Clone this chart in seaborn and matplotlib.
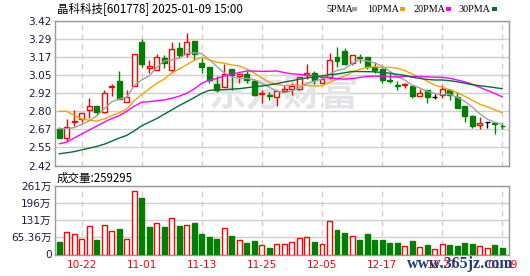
import numpy as np
import pandas as pd
import matplotlib
matplotlib.use("Agg")
import matplotlib.pyplot as plt
import seaborn as sns

# ---------------- data ----------------
dates = ["10-17", "10-18", "10-21", "10-22", "10-23", "10-24", "10-25", "10-28", "10-29", "10-30",
         "10-31", "11-01", "11-04", "11-05", "11-06", "11-07", "11-08", "11-11", "11-12", "11-13",
         "11-14", "11-15", "11-18", "11-19", "11-20", "11-21", "11-22", "11-25", "11-26", "11-27",
         "11-28", "11-29", "12-02", "12-03", "12-04", "12-05", "12-06", "12-09", "12-10", "12-11",
         "12-12", "12-13", "12-16", "12-17", "12-18", "12-19", "12-20", "12-23", "12-24", "12-25",
         "12-26", "12-27", "12-30", "12-31", "01-02", "01-03", "01-06", "01-07", "01-08", "01-09"]

opens = [2.670, 2.612, 2.722, 2.742, 2.804, 2.830, 2.790, 2.965, 3.003, 2.862,
         2.973, 3.272, 3.098, 3.084, 3.163, 3.084, 3.232, 3.189, 3.281, 3.131,
         3.100, 2.987, 2.966, 3.091, 3.040, 3.056, 3.003, 2.915, 2.908, 2.897,
         2.934, 2.950, 2.950, 3.047, 3.061, 2.992, 3.033, 3.172, 3.209, 3.126,
         3.168, 3.168, 3.103, 3.091, 3.015, 2.976, 2.976, 2.969, 2.901, 2.941,
         2.894, 2.906, 2.941, 2.894, 2.830, 2.760, 2.702, 2.721, 2.716, 2.696]
highs = [2.686, 2.742, 2.802, 2.785, 2.890, 2.832, 2.945, 2.983, 3.075, 2.945,
         3.190, 3.293, 3.149, 3.191, 3.184, 3.274, 3.274, 3.334, 3.285, 3.161,
         3.100, 3.038, 3.121, 3.091, 3.056, 3.075, 3.015, 2.941, 2.929, 2.936,
         2.975, 2.990, 3.035, 3.121, 3.073, 3.038, 3.202, 3.237, 3.230, 3.184,
         3.191, 3.168, 3.138, 3.096, 3.057, 3.006, 2.990, 2.976, 2.950, 2.941,
         2.918, 2.980, 2.948, 2.929, 2.830, 2.767, 2.756, 2.723, 2.720, 2.714]
lows = [2.612, 2.589, 2.691, 2.723, 2.749, 2.767, 2.783, 2.899, 2.879, 2.857,
        2.970, 3.103, 3.057, 3.080, 3.096, 3.057, 3.165, 3.168, 3.149, 3.057,
        2.992, 2.929, 2.966, 2.945, 2.990, 2.992, 2.899, 2.853, 2.871, 2.830,
        2.934, 2.906, 2.941, 3.022, 2.987, 2.992, 3.022, 3.103, 3.114, 3.114,
        3.131, 3.087, 3.061, 2.992, 2.992, 2.941, 2.953, 2.890, 2.901, 2.853,
        2.877, 2.890, 2.871, 2.818, 2.720, 2.679, 2.675, 2.679, 2.640, 2.672]
closes = [2.612, 2.686, 2.727, 2.783, 2.834, 2.790, 2.925, 2.970, 2.881, 2.897,
          3.189, 3.124, 3.112, 3.168, 3.126, 3.223, 3.186, 3.272, 3.189, 3.103,
          3.015, 2.945, 3.052, 3.045, 3.056, 3.015, 2.906, 2.920, 2.904, 2.936,
          2.950, 2.970, 3.030, 3.061, 3.010, 3.022, 3.149, 3.145, 3.121, 3.184,
          3.163, 3.103, 3.080, 3.015, 3.008, 2.970, 2.987, 2.899, 2.920, 2.894,
          2.894, 2.948, 2.906, 2.818, 2.760, 2.691, 2.714, 2.721, 2.709, 2.691]
# volume in 万
volumes = [48.5, 85.4, 77.8, 58.7, 107.0, 56.0, 112.0, 89.0, 97.0, 58.7,
           242.0, 217.0, 104.6, 120.0, 104.6, 139.0, 110.0, 112.0, 121.0, 79.0,
           67.6, 58.7, 99.5, 70.0, 55.0, 44.6, 52.0, 35.0, 24.5, 39.5,
           39.5, 47.2, 61.2, 65.0, 48.5, 39.5, 127.5, 93.0, 83.0, 70.0,
           56.0, 79.0, 56.0, 56.0, 44.6, 44.6, 31.9, 52.3, 26.8, 35.7,
           20.4, 39.5, 35.7, 33.2, 43.4, 39.5, 31.9, 24.2, 35.7, 25.9]

# moving-average values before enough in-window history exists
ma5_head = [2.675, 2.675, 2.682, 2.705]
ma10_head = [2.795, 2.795, 2.767, 2.742, 2.733, 2.728, 2.742, 2.765, 2.785]
ma20_head = [2.570, 2.582, 2.610, 2.638, 2.665, 2.693, 2.720, 2.745, 2.765, 2.795,
             2.830, 2.858, 2.862, 2.868, 2.874, 2.885, 2.900, 2.920, 2.950]
ma30_head = [2.501, 2.508, 2.516, 2.528, 2.540, 2.552, 2.567, 2.588, 2.610, 2.628,
             2.660, 2.695, 2.720, 2.745, 2.775, 2.805, 2.835, 2.862, 2.890, 2.920,
             2.940, 2.944, 2.945, 2.948, 2.952, 2.958, 2.965, 2.970, 2.978]

tick_labels = ["10-22", "11-01", "11-13", "11-25", "12-05", "12-17", "12-27", "01-09"]
price_ticks = ["2.42", "2.55", "2.67", "2.80", "2.92", "3.05", "3.17", "3.29", "3.42"]
vol_tick_labels = ["0", "65.36万", "131万", "196万", "261万"]
title_text = "晶科科技[601778] 2025-01-09 15:00"
ma_names = ["5PMA", "10PMA", "20PMA", "30PMA"]
last_volume_text = "成交量:259295"

# ---------------- style ----------------
sns.set_style("white")
plt.rcParams["font.family"] = ["DejaVu Sans", "Noto Sans CJK SC"]
plt.rcParams["axes.unicode_minus"] = False

RED = "#ff0000"
GREEN = "#008000"
MA_COLORS = ["#a0a0a0", "#f5a300", "#ff00ff", "#006f30"]
GRID = "#cfcfcf"
SPINE = "#999999"
TICKC = "#1a1a40"

n = len(closes)
idx = np.arange(n)
o = np.array(opens); h = np.array(highs); l = np.array(lows); c = np.array(closes)
close_s = pd.Series(closes)


def moving_avg(window, head):
    r = close_s.rolling(window).mean().to_numpy()
    r[:window - 1] = head
    return r


mas = [moving_avg(5, ma5_head), moving_avg(10, ma10_head),
       moving_avg(20, ma20_head), moving_avg(30, ma30_head)]

fig = plt.figure(figsize=(5.30, 2.76), dpi=100)
L, W = 55 / 530, 454 / 530
axp = fig.add_axes([L, 1 - 165.5 / 276, W, 144.5 / 276])
axv = fig.add_axes([L, 1 - 254.5 / 276, W, 68.5 / 276])

xmin, xmax = -0.55, 59.9
tick_pos = [dates.index(t) for t in tick_labels]

# ---------------- price panel ----------------
axp.set_xlim(xmin, xmax)
axp.set_ylim(2.42, 3.42)
pt = [2.42 + 0.125 * k for k in range(9)]
axp.set_yticks(pt)
axp.set_yticklabels(price_ticks)
for y in pt:
    axp.axhline(y, color=GRID, lw=1, zorder=0)
for xp in tick_pos:
    axp.axvline(xp, color=GRID, lw=1, ls=(0, (4, 3)), zorder=0)

axp.text(0.505, 0.49, "东方财富", transform=axp.transAxes, ha="center", va="center",
         fontsize=27, fontweight="bold", color="#e4e4e8", zorder=0.5,
         family=["Noto Sans CJK SC"])

bw = 0.66
for i in range(n):
    if c[i] > o[i]:
        col, fc = RED, "white"
    elif c[i] < o[i]:
        col, fc = GREEN, GREEN
    else:
        col, fc = "black", "black"
    axp.vlines(i, l[i], h[i], color=col, lw=1, zorder=2)
    bottom = min(o[i], c[i])
    height = abs(c[i] - o[i])
    axp.bar(i, height, bottom=bottom, width=bw, facecolor=fc, edgecolor=col,
            linewidth=1, zorder=3)

for m, colr in zip(mas, MA_COLORS):
    sns.lineplot(x=idx, y=m, color=colr, lw=1, ax=axp, zorder=4)

axp.set_xticks(tick_pos)
axp.set_xticklabels([])
axp.tick_params(axis="both", length=0)
axp.tick_params(axis="y", labelsize=7.6, labelcolor=TICKC, pad=2.5)
for s in axp.spines.values():
    s.set_color(SPINE); s.set_linewidth(1)

# ---------------- volume panel ----------------
axv.set_xlim(xmin, xmax)
vmax = 261.44
axv.set_ylim(0, vmax)
vt = [vmax * k / 4 for k in range(5)]
axv.set_yticks(vt)
axv.set_yticklabels(vol_tick_labels)
for y in vt:
    axv.axhline(y, color=GRID, lw=1, zorder=0)
for xp in tick_pos:
    axv.axvline(xp, color=GRID, lw=1, ls=(0, (4, 3)), zorder=0)

prev = np.concatenate([[np.nan], c[:-1]])
for i in range(n):
    up = (c[i] >= prev[i]) if i > 0 else (c[i] >= o[i])
    if up:
        axv.bar(i, volumes[i], width=bw, facecolor="white", edgecolor=RED, linewidth=1, zorder=3)
    else:
        axv.bar(i, volumes[i], width=bw, facecolor=GREEN, edgecolor=GREEN, linewidth=1, zorder=3)

axv.set_xticks(tick_pos)
axv.set_xticklabels(tick_labels)
axv.tick_params(axis="both", length=0)
axv.tick_params(axis="x", labelsize=7.6, labelcolor=RED, pad=4)
axv.tick_params(axis="y", labelsize=7.6, labelcolor=TICKC, pad=2.5)
axv.set_xlabel(""); axv.set_ylabel("")
axp.set_xlabel(""); axp.set_ylabel("")
for s in axv.spines.values():
    s.set_color(SPINE); s.set_linewidth(1)

# ---------------- texts ----------------
fig.text(57 / 530, 1 - 9 / 276, title_text, fontsize=8.3, va="center", ha="left",
         color="black", family=["Noto Sans CJK SC", "DejaVu Sans"])
fig.text(57 / 530, 1 - 178 / 276, last_volume_text, fontsize=8.3, va="center", ha="left",
         color="black", family=["Noto Sans CJK SC", "DejaVu Sans"])

legend_x = [326, 367, 413, 458]
for name, colr, xx in zip(ma_names, MA_COLORS, legend_x):
    t = fig.text(xx / 530, 1 - 9 / 276, name, fontsize=7.3, va="center", ha="left",
                 color="black", family=["Liberation Serif"])
    sw = {"5PMA": 352, "10PMA": 400, "20PMA": 446, "30PMA": 492}[name]
    fig.patches.append(plt.Rectangle((sw / 530, 1 - 11 / 276), 5 / 530, 4 / 276,
                                     transform=fig.transFigure, facecolor=colr,
                                     edgecolor="none"))

fig.text(407 / 530, 1 - 268 / 276, "www.365jz.com", fontsize=11.5, fontweight="bold",
         color="#1f3f7f", family=["Liberation Serif"], va="baseline", ha="left", zorder=10)

fig.savefig("out.png", dpi=100)
